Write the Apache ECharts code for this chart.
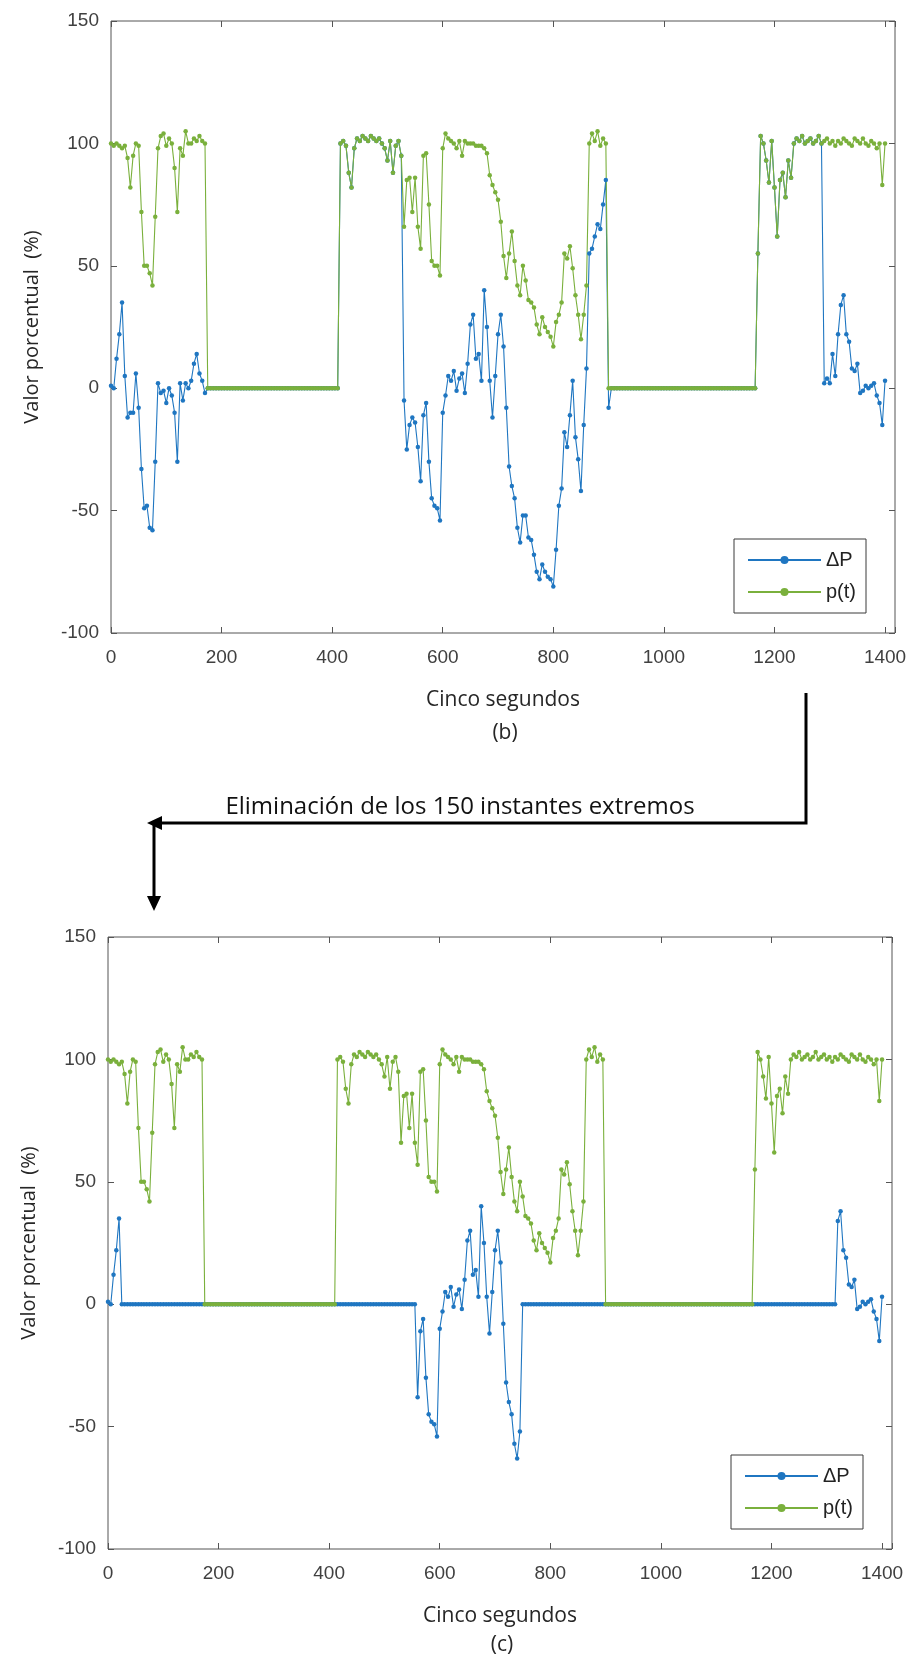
<!DOCTYPE html>
<html><head><meta charset="utf-8">
<script src="https://cdn.jsdelivr.net/npm/echarts@6/dist/echarts.min.js"></script>
<style>html,body{margin:0;padding:0;background:#fff}#c{width:911px;height:1656px}</style>
</head><body><div id="c"></div>
<script>
// sample spacing on the "Cinco segundos" axis
const step = 5;
const xTickLabels = [0, 200, 400, 600, 800, 1000, 1200, 1400];
const yTickLabels = [-100, -50, 0, 50, 100, 150];
const seriesNames = ['\u0394P', 'p(t)'];

// p(t), x = 0..1400 every 5
const pT = [
  100,99,100,99,98,99,94,82,95,100,
  99,72,50,50,47,42,70,98,103,104,
  99,102,100,90,72,98,95,105,100,100,
  102,101,103,101,100,
  0,0,0,0,0,0,0,0,0,0,
  0,0,0,0,0,0,0,0,0,0,
  0,0,0,0,0,0,0,0,0,0,
  0,0,0,0,0,0,0,0,0,0,
  0,0,0,0,0,0,0,0,
  100,101,99,88,82,98,102,101,103,102,
  101,103,102,101,102,100,98,93,101,88,
  99,101,95,66,85,86,72,86,66,57,
  95,96,75,52,50,50,46,98,104,102,
  101,100,98,101,95,101,100,100,100,99,
  99,99,98,96,87,83,80,77,68,54,
  45,55,64,52,42,38,50,44,36,35,
  33,26,22,29,25,23,21,17,27,30,
  35,55,53,58,49,38,30,20,30,42,
  100,104,101,105,99,102,100,
  0,0,0,0,0,0,0,0,0,0,
  0,0,0,0,0,0,0,0,0,0,
  0,0,0,0,0,0,0,0,0,0,
  0,0,0,0,0,0,0,0,0,0,
  0,0,0,0,0,0,0,0,0,0,
  0,0,0,0,
  55,103,100,93,84,101,82,62,85,88,
  78,93,86,100,102,101,103,100,101,102,
  100,101,103,100,101,102,100,101,99,101,
  100,102,101,100,99,102,101,100,102,100,
  99,101,100,98,100,83,100
];

// ΔP, x = 0..1400 every 5
const dP = [
  1,0,12,22,35,5,-12,-10,-10,6,
  -8,-33,-49,-48,-57,-58,-30,2,-2,-1,
  -6,0,-3,-10,-30,2,-5,2,0,3,
  10,14,6,3,-2,
  0,0,0,0,0,0,0,0,0,0,
  0,0,0,0,0,0,0,0,0,0,
  0,0,0,0,0,0,0,0,0,0,
  0,0,0,0,0,0,0,0,0,0,
  0,0,0,0,0,0,0,0,
  100,101,99,88,82,98,102,101,103,102,
  101,103,102,101,102,100,98,93,101,88,
  99,101,95,
  -5,-25,-15,-12,-14,-24,-38,-11,-6,-30,
  -45,-48,-49,-54,-10,-3,5,3,7,-1,
  4,6,-2,10,26,30,12,14,3,40,
  25,3,-12,5,22,30,17,-8,-32,-40,
  -45,-57,-63,-52,-52,-61,-62,-68,-75,-78,
  -72,-75,-77,-78,-81,-66,-48,-41,-18,-24,
  -11,3,-20,-29,-42,-15,8,55,57,62,
  67,65,75,85,
  -8,
  0,0,0,0,0,0,0,0,0,0,
  0,0,0,0,0,0,0,0,0,0,
  0,0,0,0,0,0,0,0,0,0,
  0,0,0,0,0,0,0,0,0,0,
  0,0,0,0,0,0,0,0,0,0,
  0,0,0,
  55,103,100,93,84,101,82,62,85,88,
  78,93,86,100,102,101,103,100,101,102,
  100,101,103,100,
  2,4,2,14,5,22,34,38,22,19,
  8,7,10,-2,-1,1,0,1,2,-3,
  -6,-15,3
];

// (c): instants kept after removing the 150 extreme ones (others set to 0)
const keptRanges = [[0, 20], [560, 745], [1320, 1400]];

const xOf = i => i * step;
const pairs = arr => arr.map((v, i) => [xOf(i), v]);
const dPc = dP.map((v, i) => keptRanges.some(r => xOf(i) >= r[0] && xOf(i) <= r[1]) ? v : 0);

const BLUE = '#1f76c1', GREEN = '#7ab03c', AXC = '#555555';
const XMAX = 1418;
const tickFont = { fontFamily: 'Liberation Sans, Arial, sans-serif', fontSize: 19, color: '#404040' };
const titleFont = { fontFamily: 'Open Sans, Noto Sans, sans-serif', fontSize: 21, color: '#262626' };

const grids = [
  { left: 111, top: 21, width: 784, height: 612 },
  { left: 108, top: 937, width: 784, height: 612 }
];

const xAxes = [], yAxes = [], series = [];
grids.forEach((g, gi) => {
  xAxes.push({
    type: 'value', gridIndex: gi, min: 0, max: XMAX, interval: 200, position: 'bottom',
    axisLine: { show: false, onZero: false }, splitLine: { show: false },
    axisTick: { inside: true, length: 6, lineStyle: { color: AXC } },
    axisLabel: Object.assign({ margin: 15, formatter: v => xTickLabels.includes(v) ? String(v) : '' }, tickFont),
    name: 'Cinco segundos', nameLocation: 'middle', nameGap: 57, nameTextStyle: titleFont
  });
  xAxes.push({
    type: 'value', gridIndex: gi, min: 0, max: XMAX, interval: 200, position: 'top',
    axisLine: { show: false, onZero: false }, splitLine: { show: false }, axisLabel: { show: false },
    axisTick: { inside: true, length: 6, lineStyle: { color: AXC } }
  });
  yAxes.push({
    type: 'value', gridIndex: gi, min: -100, max: 150, interval: 50, position: 'left',
    axisLine: { show: false, onZero: false }, splitLine: { show: false },
    axisTick: { inside: true, length: 6, lineStyle: { color: AXC } },
    axisLabel: Object.assign({ margin: 12, formatter: v => yTickLabels.includes(v) ? String(v) : '' }, tickFont),
    name: 'Valor porcentual  (%)', nameLocation: 'middle', nameGap: 69, nameTextStyle: Object.assign({}, titleFont, { fontSize: 20 })
  });
  yAxes.push({
    type: 'value', gridIndex: gi, min: -100, max: 150, interval: 50, position: 'right',
    axisLine: { show: false, onZero: false }, splitLine: { show: false }, axisLabel: { show: false },
    axisTick: { inside: true, length: 6, lineStyle: { color: AXC } }
  });
  const blueData = gi === 0 ? pairs(dP) : pairs(dPc);
  [[seriesNames[0], blueData, BLUE], [seriesNames[1], pairs(pT), GREEN]].forEach(([nm, data, col]) => {
    series.push({
      name: nm, type: 'line', xAxisIndex: gi * 2, yAxisIndex: gi * 2, data,
      symbol: 'circle', symbolSize: 4.5, showSymbol: true, showAllSymbol: true,
      lineStyle: { color: col, width: 1.1 }, itemStyle: { color: col },
      emphasis: { disabled: true }, animation: false, clip: true
    });
  });
});

const legendCommon = {
  orient: 'vertical', data: seriesNames, backgroundColor: '#fff',
  borderColor: '#3a3a3a', borderWidth: 1, padding: [11, 10, 11, 13],
  itemWidth: 73, itemHeight: 10, itemGap: 12,
  textStyle: { fontFamily: 'Liberation Sans, Arial, sans-serif', fontSize: 20, color: '#222' },
  selectedMode: false
};

const chart = echarts.init(document.getElementById('c'), null, { renderer: 'canvas' });
chart.setOption({
  backgroundColor: '#ffffff',
  animation: false,
  grid: grids.map(g => Object.assign({ show: true, borderColor: AXC, borderWidth: 1, backgroundColor: 'transparent', containLabel: false, outerBoundsMode: 'none' }, g)),
  xAxis: xAxes,
  yAxis: yAxes,
  legend: [
    Object.assign({ left: 734, top: 539 }, legendCommon),
    Object.assign({ left: 731, top: 1455 }, legendCommon)
  ],
  series,
  graphic: [
    { type: 'text', x: 505, y: 733, style: { text: '(b)', font: '21px "Open Sans", sans-serif', fill: '#262626', align: 'center', verticalAlign: 'middle' } },
    { type: 'text', x: 502, y: 1645, style: { text: '(c)', font: '21px "Open Sans", sans-serif', fill: '#262626', align: 'center', verticalAlign: 'middle' } },
    { type: 'text', x: 460, y: 807, style: { text: 'Eliminaci\u00f3n de los 150 instantes extremos', font: '24px "Open Sans", sans-serif', fill: '#111', align: 'center', verticalAlign: 'middle' } },
    { type: 'polyline', shape: { points: [[806, 693], [806, 823], [160, 823]] }, style: { stroke: '#000', lineWidth: 3, fill: null } },
    { type: 'polygon', shape: { points: [[147, 823], [162, 816], [162, 830]] }, style: { fill: '#000' } },
    { type: 'polyline', shape: { points: [[154, 823], [154, 898]] }, style: { stroke: '#000', lineWidth: 3, fill: null } },
    { type: 'polygon', shape: { points: [[154, 911], [147, 896], [161, 896]] }, style: { fill: '#000' } }
  ]
});
if (pT.length !== 281 || dP.length !== 281) console.error('length mismatch', pT.length, dP.length);
</script>
</body></html>
